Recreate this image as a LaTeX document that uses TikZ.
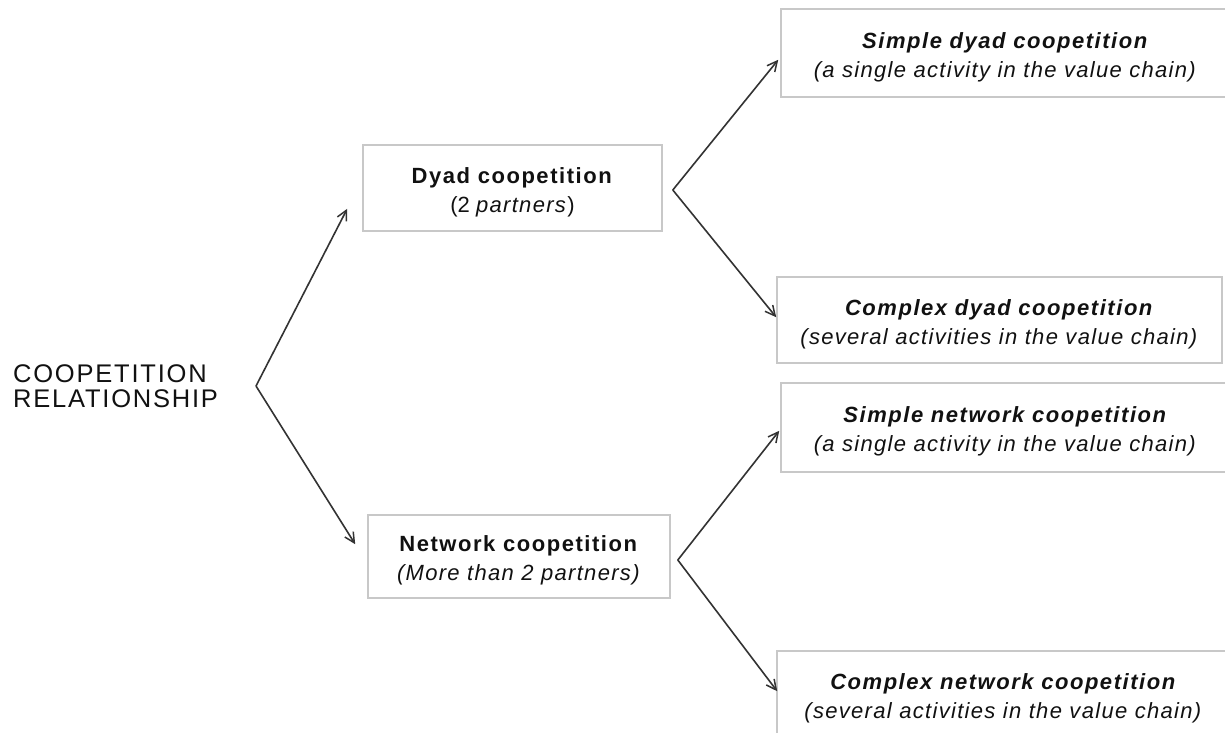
\documentclass[tikz,border=0pt]{standalone}
\usepackage{fontspec}
\setmainfont{Liberation Sans}[
  BoldFeatures={LetterSpace=7},
  BoldItalicFeatures={LetterSpace=7},
  ItalicFeatures={LetterSpace=6}]
\usetikzlibrary{arrows.meta,calc}
\definecolor{boxline}{HTML}{C8C8C8}
\definecolor{arrowcol}{HTML}{333333}
\definecolor{txt}{HTML}{111111}
\tikzset{
  box/.style={draw=boxline, line width=1.6pt, fill=white, align=center, inner sep=0pt,
    text=txt, font=\fontsize{22}{29}\selectfont, text height=48pt, text depth=0pt},
  rootlabel/.style={align=left, anchor=west, text=txt, inner sep=0pt,
    font=\fontsize{25.5}{25}\selectfont\addfontfeature{LetterSpace=7}},
  conn/.style={draw=arrowcol, line width=1.6pt, -{Straight Barb[length=10pt,width=10pt,line width=1.5pt]}}
}
\begin{document}
\begin{tikzpicture}[x=1pt,y=-1pt]
\useasboundingbox (0,0) rectangle (1225,732);
\fill[white] (0,0) rectangle (1225,732);
\begin{scope}
\clip (0,0) rectangle (1225,732);
\node[rootlabel] (root) at (13,386) {COOPETITION\\RELATIONSHIP};
\node[box, minimum width=299pt, minimum height=86pt] (dyad) at (512.5,188)
  {\textbf{Dyad coopetition}\\(2 \textit{partners})};
\node[box, minimum width=302pt, minimum height=83pt] (network) at (519,556.5)
  {\textbf{Network coopetition}\\\textit{(More than 2 partners)}};
\node[box, minimum width=449pt, minimum height=88pt] (sdyad) at (1005.5,53)
  {\textbf{\textit{Simple dyad coopetition}}\\\textit{(a single activity in the value chain)}};
\node[box, minimum width=445pt, minimum height=86pt] (cdyad) at (999.5,320)
  {\textbf{\textit{Complex dyad coopetition}}\\\textit{(several activities in the value chain)}};
\node[box, minimum width=449pt, minimum height=89pt] (snet) at (1005.5,427.5)
  {\textbf{\textit{Simple network coopetition}}\\\textit{(a single activity in the value chain)}};
\node[box, minimum width=453pt, minimum height=86pt] (cnet) at (1003.5,694)
  {\textbf{\textit{Complex network coopetition}}\\\textit{(several activities in the value chain)}};
\end{scope}
\coordinate (f0) at ($(root.west)+(243,0)$);
\coordinate (f1) at ($(dyad.east)+(10,2)$);
\coordinate (f2) at ($(network.east)+(7,3.5)$);
\draw[conn] (f0) -- ($(dyad.south west)+(-15,-23)$);
\draw[conn] (f0) -- ($(network.north west)+(-12,30)$);
\draw[conn] (f1) -- ($(sdyad.south west)+(-2,-38)$);
\draw[conn] (f1) -- ($(cdyad.north west)+(0,41)$);
\draw[conn] (f2) -- ($(snet.south west)+(-1,-42)$);
\draw[conn] (f2) -- ($(cnet.north west)+(1,41)$);
\end{tikzpicture}
\end{document}
